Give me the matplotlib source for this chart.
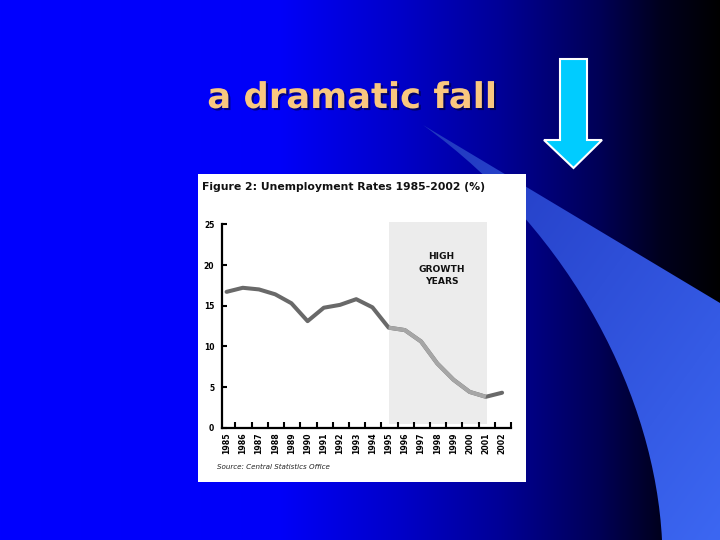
import numpy as np
import matplotlib
matplotlib.use("Agg")
import matplotlib.pyplot as plt
from matplotlib.patches import Polygon, Rectangle, PathPatch
from matplotlib.path import Path
import matplotlib.patheffects as pe

# data
years = [1985, 1986, 1987, 1988, 1989, 1990, 1991, 1992, 1993,
         1994, 1995, 1996, 1997, 1998, 1999, 2000, 2001, 2002]
rates = [16.7, 17.2, 17.0, 16.4, 15.3, 13.1, 14.75, 15.1, 15.8,
         14.8, 12.3, 12.0, 10.6, 7.9, 5.9, 4.4, 3.8, 4.3]
growth_start, growth_end = 1995, 2001
y_ticks = [0, 5, 10, 15, 20, 25]

W, H = 720, 540
fig = plt.figure(figsize=(7.2, 5.4), dpi=100)

# ---- slide background (pixel coords) ----
bg = fig.add_axes([0, 0, 1, 1])
bg.set_xlim(0, W)
bg.set_ylim(H, 0)
bg.axis("off")

xs = np.arange(W)
stops_x = [0, 280, 400, 500, 600, 660, 720]
stops_b = [255, 248, 200, 150, 85, 30, 0]
blue = np.interp(xs, stops_x, stops_b) / 255.0
grad = np.zeros((2, W, 3))
grad[:, :, 2] = blue
bg.imshow(grad, extent=[0, W, H, 0], aspect="auto", zorder=0)

# swoosh: straight upper edge, curved lower edge
verts = [(423, 125), (720, 303), (720, 540), (662, 540),
         (655, 400), (575, 235), (423, 125), (423, 125)]
codes = [Path.MOVETO, Path.LINETO, Path.LINETO, Path.LINETO,
         Path.CURVE4, Path.CURVE4, Path.CURVE4, Path.CLOSEPOLY]
swoosh = PathPatch(Path(verts, codes), facecolor="none", edgecolor="none")
bg.add_patch(swoosh)
t = np.linspace(0, 1, 200)
tt = (t[None, :] + t[:, None]) / 2
sw = np.zeros((200, 200, 3))
sw[:, :, 0] = (32 + 28 * tt) / 255
sw[:, :, 1] = (55 + 48 * tt) / 255
sw[:, :, 2] = (190 + 52 * tt) / 255
im = bg.imshow(sw, extent=[420, 720, 540, 120], aspect="auto", zorder=1)
im.set_clip_path(swoosh)

# arrow
arrow_pts = [(560, 59), (587, 59), (587, 140), (602, 140), (573.5, 168),
             (544, 140), (560, 140)]
bg.add_patch(Polygon(arrow_pts, closed=True, facecolor="#00CCFF",
                     edgecolor="white", linewidth=1.5, zorder=3))

# slide title
bg.text(352, 108, "a dramatic fall", color="#F9C77F", fontsize=25.5,
        fontweight="bold", family="DejaVu Sans", ha="center", va="baseline",
        zorder=4,
        path_effects=[pe.withSimplePatchShadow(offset=(1.5, -1.5),
                                               shadow_rgbFace="black", alpha=0.45)])

# white panel holding the chart
bg.add_patch(Rectangle((198, 174), 328, 308, facecolor="white",
                       edgecolor="none", zorder=2))
bg.text(202, 187, "Figure 2: Unemployment Rates 1985-2002 (%)", fontsize=7.85,
        fontweight="bold", family="DejaVu Sans", ha="left", va="center",
        color="#111111", zorder=4)
bg.text(217, 467, "Source: Central Statistics Office", fontsize=5.1,
        style="italic", family="DejaVu Sans", ha="left", va="center",
        color="#222222", zorder=4)

# ---- chart ----
x0_px, x1_px = 221.7, 511.0
y0_px, ytop_px = 427.7, 221.9
ax = fig.add_axes([x0_px / W, (H - y0_px) / H, (x1_px - x0_px) / W,
                   (y0_px - ytop_px) / H])
ax.set_facecolor("none")

idx = np.arange(len(years))
ax.set_xlim(-0.3, len(years) - 0.45)
ax.set_ylim(0, 25.3)

i0 = years.index(growth_start)
i1 = years.index(growth_end)
ax.add_patch(Rectangle((i0, 0.45), (i1 - i0) + 0.07, 24.85,
                       facecolor="#ECECEC", edgecolor="none", zorder=1))
ax.text((i0 + i1) / 2 + 0.25, 19.45, "HIGH\nGROWTH\nYEARS", fontsize=6.6,
        fontweight="bold", family="DejaVu Sans", ha="center", va="center",
        linespacing=1.5, color="#111111", zorder=2)

ax.plot(idx, rates, color="#696969", lw=2.9, solid_capstyle="round",
        solid_joinstyle="round", zorder=3)
ax.plot(idx[i0:i1 + 1], rates[i0:i1 + 1], color="#A6A6A6", lw=2.9,
        solid_capstyle="butt", solid_joinstyle="round", zorder=4)

for s in ["top", "right"]:
    ax.spines[s].set_visible(False)
ax.spines["left"].set_linewidth(1.6)
ax.spines["bottom"].set_linewidth(1.6)
ax.spines["left"].set_bounds(0, 25)

ax.set_yticks(y_ticks)
ax.set_yticklabels([str(v) for v in y_ticks], fontsize=5.5, fontweight="bold")
ax.tick_params(axis="y", direction="in", length=3.6, width=1.5, pad=5.3)

ax.set_xticks(idx)
ax.set_xticklabels([str(y) for y in years], rotation=90, fontsize=5.6,
                   fontweight="bold")
ax.set_xticks(idx + 0.55, minor=True)
ax.tick_params(axis="x", which="major", length=0, pad=3.2)
ax.tick_params(axis="x", which="minor", direction="in", length=4.3, width=1.5)

fig.savefig("out.png", dpi=100)
